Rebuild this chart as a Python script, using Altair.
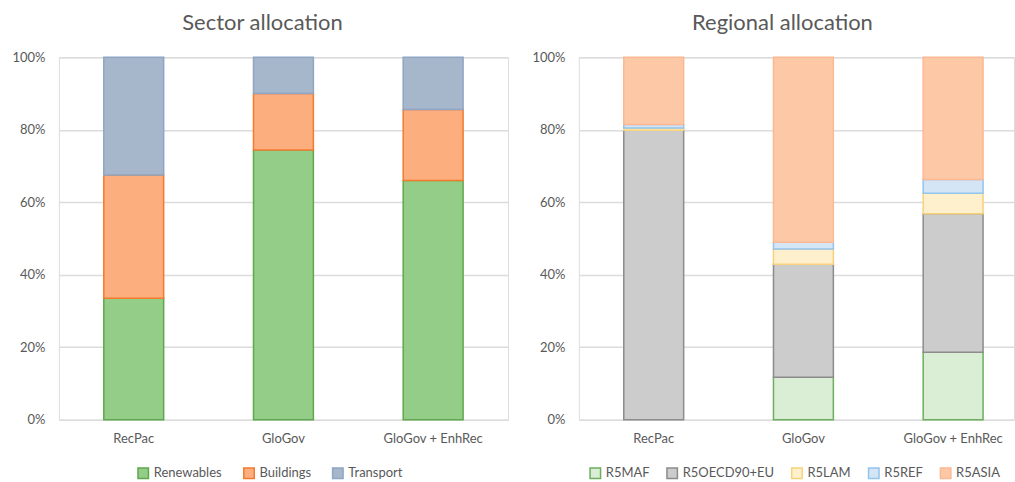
import altair as alt
import pandas as pd

# Scenarios shown on both panels
scenarios = ["RecPac", "GloGov", "GloGov + EnhRec"]

# Sector shares (% of total)
sectors = ["Renewables", "Buildings", "Transport"]
renewables = [33.5, 74.4, 66.0]
buildings = [34.0, 15.6, 19.6]
transport = [32.5, 10.0, 14.4]
sector_fill = ["#93CD87", "#FDAE7E", "#A6B6CB"]
sector_stroke = ["#5FA84E", "#F27B30", "#8FA5C2"]

# Regional shares (% of total)
regions = ["R5MAF", "R5OECD90+EU", "R5LAM", "R5REF", "R5ASIA"]
r5maf = [0.0, 11.7, 18.6]
r5oecd = [79.9, 31.2, 38.2]
r5lam = [0.6, 4.2, 5.7]
r5ref = [1.0, 1.9, 3.8]
r5asia = [18.5, 51.0, 33.7]
region_fill = ["#DAEDD5", "#CCCCCC", "#FEF0CC", "#D4E6F5", "#FDC8A6"]
region_stroke = ["#6CAE5E", "#8C8C8C", "#F7D27A", "#92C4EC", "#FBB893"]


def long_table(names, series, key):
    rows = []
    for i, (name, vals) in enumerate(zip(names, series)):
        for s, v in zip(scenarios, vals):
            rows.append({"scenario": s, key: name, "idx": i, "share": v / 100})
    return pd.DataFrame(rows)


sector_df = long_table(sectors, [renewables, buildings, transport], "sector")
region_df = long_table(regions, [r5maf, r5oecd, r5lam, r5ref, r5asia], "region")

TEXT = "#595959"
FONT = "Lato"
H = 363


def y_axis():
    return alt.Axis(
        values=[0, 0.2, 0.4, 0.6, 0.8, 1.0], format=".0%", domain=False,
        ticks=False, grid=True, gridColor="#DCDCDC", gridWidth=1.5,
        labelPadding=14, labelFontSize=13, labelColor=TEXT, labelFont=FONT,
        title=None, minExtent=48, maxExtent=48,
    )


def x_axis():
    return alt.Axis(
        labelAngle=0, domain=False, ticks=False, labelPadding=13,
        labelFontSize=13, labelColor=TEXT, labelFont=FONT, title=None,
    )


def legend(x, y, pad):
    return alt.Legend(
        orient="none", legendX=x, legendY=y, direction="horizontal",
        title=None, symbolType="square", symbolSize=110,
        symbolStrokeWidth=1.5, labelFontSize=13, labelColor=TEXT,
        labelFont=FONT, columnPadding=pad, labelOffset=4,
    )


def panel(df, key, names, fills, strokes, title, width, xscale, leg_x, pad, title_dx):
    lg = legend(leg_x, 410, pad)
    return (
        alt.Chart(df, title=alt.Title(
            title, fontSize=22, font=FONT, fontWeight="normal", color=TEXT,
            anchor="middle", dx=title_dx, offset=16))
        .transform_filter("datum.share > 0")
        .mark_bar(strokeWidth=1.5)
        .encode(
            x=alt.X("scenario:N", sort=scenarios, scale=xscale, axis=x_axis()),
            y=alt.Y("share:Q", stack="zero",
                    scale=alt.Scale(domain=[0, 1], nice=False), axis=y_axis()),
            fill=alt.Fill(f"{key}:N", sort=names,
                          scale=alt.Scale(domain=names, range=fills), legend=lg),
            stroke=alt.Stroke(f"{key}:N", sort=names,
                              scale=alt.Scale(domain=names, range=strokes), legend=lg),
            order=alt.Order("idx:Q", sort="ascending"),
        )
        .properties(width=width, height=H)
    )


left = panel(
    sector_df, "sector", sectors, sector_fill, sector_stroke, "Sector allocation",
    450, alt.Scale(paddingInner=0.6, paddingOuter=0.3), 78, 18, -21,
)
right = panel(
    region_df, "region", regions, region_fill, region_stroke, "Regional allocation",
    436, alt.Scale(paddingInner=0.6, paddingOuter=0.25333, align=0.5921), 10, 14, -14,
)

chart = (
    alt.hconcat(left, right, spacing=71, bounds="flush")
    .resolve_scale(fill="independent", stroke="independent", x="independent", y="independent")
    .resolve_legend(fill="independent", stroke="independent")
    .properties(padding={"left": 10, "top": 11, "right": 0, "bottom": 0})
    .configure_view(stroke=None)
    .configure(background="white")
)

chart.save("out.html", embed_options={"renderer": "svg", "actions": False})
